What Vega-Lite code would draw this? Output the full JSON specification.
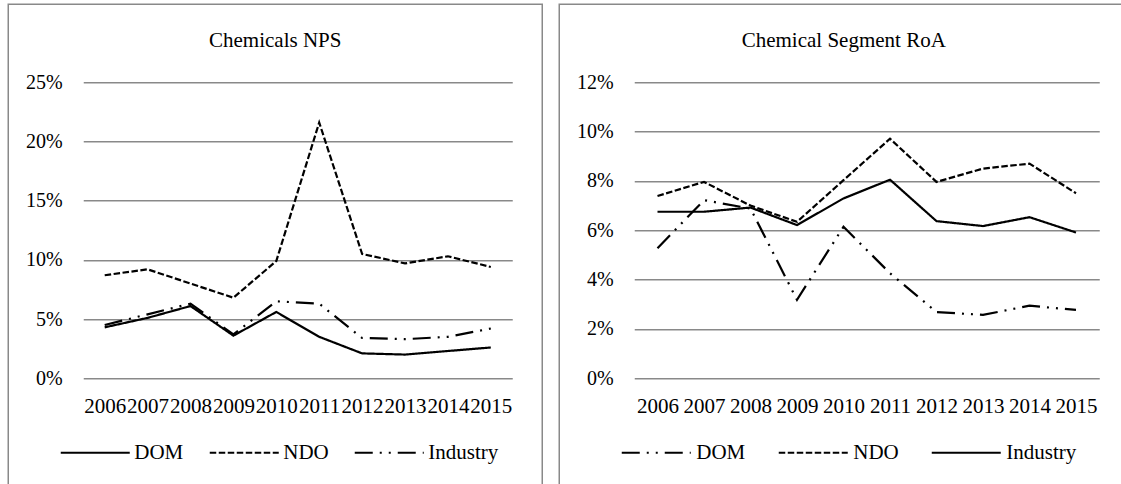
{
  "$schema": "https://vega.github.io/schema/vega-lite/v6.json",
  "padding": {"left": 7.25, "top": 3.25, "right": -8, "bottom": -51},
  "background": "white",
  "spacing": 17,
  "bounds": "flush",
  "resolve": {"scale": {"strokeDash": "independent"}, "legend": {"strokeDash": "independent"}},
  "config": {
    "font": "Liberation Serif",
    "view": {"stroke": "#898989", "strokeWidth": 1.5},
    "axis": {"labelFont": "Liberation Serif", "labelColor": "black", "title": null, "domain": false, "grid": false},
    "legend": {"labelFont": "Liberation Serif", "labelColor": "black"},
    "title": {"font": "Liberation Serif", "fontSize": 21, "fontWeight": "normal", "color": "black", "anchor": "middle", "frame": "group"}
  },
  "datasets": {
    "nps": [
      {"year": 2006, "series": "DOM", "value": 0.043},
      {"year": 2007, "series": "DOM", "value": 0.051},
      {"year": 2008, "series": "DOM", "value": 0.061},
      {"year": 2009, "series": "DOM", "value": 0.036},
      {"year": 2010, "series": "DOM", "value": 0.056},
      {"year": 2011, "series": "DOM", "value": 0.035},
      {"year": 2012, "series": "DOM", "value": 0.021},
      {"year": 2013, "series": "DOM", "value": 0.020},
      {"year": 2014, "series": "DOM", "value": 0.023},
      {"year": 2015, "series": "DOM", "value": 0.026},
      {"year": 2006, "series": "NDO", "value": 0.087},
      {"year": 2007, "series": "NDO", "value": 0.092},
      {"year": 2008, "series": "NDO", "value": 0.080},
      {"year": 2009, "series": "NDO", "value": 0.068},
      {"year": 2010, "series": "NDO", "value": 0.099},
      {"year": 2011, "series": "NDO", "value": 0.216},
      {"year": 2012, "series": "NDO", "value": 0.105},
      {"year": 2013, "series": "NDO", "value": 0.097},
      {"year": 2014, "series": "NDO", "value": 0.103},
      {"year": 2015, "series": "NDO", "value": 0.094},
      {"year": 2006, "series": "Industry", "value": 0.045},
      {"year": 2007, "series": "Industry", "value": 0.054},
      {"year": 2008, "series": "Industry", "value": 0.063},
      {"year": 2009, "series": "Industry", "value": 0.037},
      {"year": 2010, "series": "Industry", "value": 0.065},
      {"year": 2011, "series": "Industry", "value": 0.063},
      {"year": 2012, "series": "Industry", "value": 0.034},
      {"year": 2013, "series": "Industry", "value": 0.033},
      {"year": 2014, "series": "Industry", "value": 0.035},
      {"year": 2015, "series": "Industry", "value": 0.042}
    ],
    "roa": [
      {"year": 2006, "series": "DOM", "value": 0.0527},
      {"year": 2007, "series": "DOM", "value": 0.0722},
      {"year": 2008, "series": "DOM", "value": 0.0688},
      {"year": 2009, "series": "DOM", "value": 0.0318},
      {"year": 2010, "series": "DOM", "value": 0.0614},
      {"year": 2011, "series": "DOM", "value": 0.0426},
      {"year": 2012, "series": "DOM", "value": 0.0268},
      {"year": 2013, "series": "DOM", "value": 0.0257},
      {"year": 2014, "series": "DOM", "value": 0.0294},
      {"year": 2015, "series": "DOM", "value": 0.0277},
      {"year": 2006, "series": "NDO", "value": 0.0739},
      {"year": 2007, "series": "NDO", "value": 0.0796},
      {"year": 2008, "series": "NDO", "value": 0.0700},
      {"year": 2009, "series": "NDO", "value": 0.0634},
      {"year": 2010, "series": "NDO", "value": 0.0803},
      {"year": 2011, "series": "NDO", "value": 0.0971},
      {"year": 2012, "series": "NDO", "value": 0.0796},
      {"year": 2013, "series": "NDO", "value": 0.0850},
      {"year": 2014, "series": "NDO", "value": 0.0870},
      {"year": 2015, "series": "NDO", "value": 0.0750},
      {"year": 2006, "series": "Industry", "value": 0.0675},
      {"year": 2007, "series": "Industry", "value": 0.0675},
      {"year": 2008, "series": "Industry", "value": 0.0692},
      {"year": 2009, "series": "Industry", "value": 0.0621},
      {"year": 2010, "series": "Industry", "value": 0.0729},
      {"year": 2011, "series": "Industry", "value": 0.0805},
      {"year": 2012, "series": "Industry", "value": 0.0637},
      {"year": 2013, "series": "Industry", "value": 0.0617},
      {"year": 2014, "series": "Industry", "value": 0.0653},
      {"year": 2015, "series": "Industry", "value": 0.0591}
    ]
  },
  "hconcat": [
    {
      "width": 534,
      "height": 530,
      "data": {"name": "nps"},
      "title": {"text": "Chemicals NPS", "baseline": "alphabetic", "offset": -64},
      "mark": {"type": "line", "strokeWidth": 2.2, "color": "black", "strokeCap": "butt"},
      "encoding": {
        "x": {
          "field": "year", "type": "quantitative",
          "scale": {"domain": [2003.7517, 2016.1993], "nice": false, "zero": false},
          "axis": {"values": [2006, 2007, 2008, 2009, 2010, 2011, 2012, 2013, 2014, 2015], "format": "d", "ticks": false, "labelPadding": 17, "labelFontSize": 21, "offset": -156, "labelFlush": false, "labelOverlap": false}
        },
        "y": {
          "field": "value", "type": "quantitative",
          "scale": {"domain": [-0.131757, 0.315878], "nice": false, "zero": false},
          "axis": {"values": [0, 0.05, 0.1, 0.15, 0.2, 0.25], "format": ".0%", "ticks": true, "tickSize": 429, "tickColor": "#898989", "tickWidth": 1.5, "offset": -504, "labelPadding": 21, "labelFontSize": 20, "labelFlush": false, "labelOverlap": false}
        },
        "strokeDash": {
          "field": "series", "type": "nominal",
          "scale": {"domain": ["DOM", "NDO", "Industry"], "range": [[1, 0], [6.5, 2.5], [18, 7, 2, 7, 2, 7]]},
          "legend": {"orient": "none", "legendX": 51, "legendY": 412.5, "direction": "horizontal", "title": null, "symbolType": "stroke", "symbolSize": 4761, "symbolStrokeWidth": 2.2, "symbolStrokeColor": "black", "labelFontSize": 21, "labelOffset": 3, "columnPadding": 21, "padding": 0}
        }
      }
    },
    {
      "width": 569,
      "height": 530,
      "data": {"name": "roa"},
      "title": {"text": "Chemical Segment RoA", "baseline": "alphabetic", "offset": -64},
      "mark": {"type": "line", "strokeWidth": 2.2, "color": "black", "strokeCap": "butt"},
      "encoding": {
        "x": {
          "field": "year", "type": "quantitative",
          "scale": {"domain": [2003.8871, 2016.1237], "nice": false, "zero": false},
          "axis": {"values": [2006, 2007, 2008, 2009, 2010, 2011, 2012, 2013, 2014, 2015], "format": "d", "ticks": false, "labelPadding": 17, "labelFontSize": 21, "offset": -156, "labelFlush": false, "labelOverlap": false}
        },
        "y": {
          "field": "value", "type": "quantitative",
          "scale": {"domain": [-0.063243, 0.151622], "nice": false, "zero": false},
          "axis": {"values": [0, 0.02, 0.04, 0.06, 0.08, 0.1, 0.12], "format": ".0%", "ticks": true, "tickSize": 465, "tickColor": "#898989", "tickWidth": 1.5, "offset": -540, "labelPadding": 21, "labelFontSize": 20, "labelFlush": false, "labelOverlap": false}
        },
        "strokeDash": {
          "field": "series", "type": "nominal",
          "scale": {"domain": ["DOM", "NDO", "Industry"], "range": [[18, 7, 2, 7, 2, 7], [6.5, 2.5], [1, 0]]},
          "legend": {"orient": "none", "legendX": 61, "legendY": 412.5, "direction": "horizontal", "title": null, "symbolType": "stroke", "symbolSize": 4761, "symbolStrokeWidth": 2.2, "symbolStrokeColor": "black", "labelFontSize": 21, "labelOffset": 4, "columnPadding": 28, "padding": 0}
        }
      }
    }
  ]
}
